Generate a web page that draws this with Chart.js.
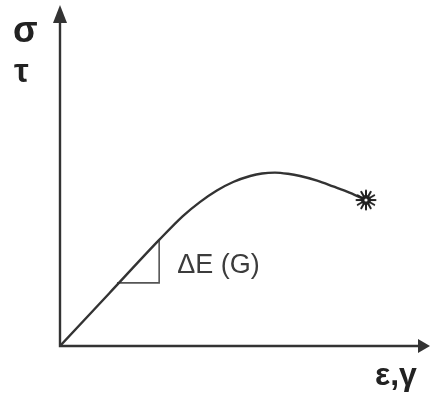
<!DOCTYPE html>
<html>
<head>
<meta charset="utf-8">
<title>Stress-strain curve</title>
<script src="https://cdn.jsdelivr.net/npm/chart.js@4/dist/chart.umd.min.js"></script>
<style>
  html, body { margin: 0; padding: 0; background: #fff; }
  canvas { display: block; }
</style>
</head>
<body>
<canvas id="curveChart" width="430" height="394"></canvas>
<script>
  // Curve samples (arbitrary units, 0-100 on both axes)
  const strain = [0, 13.4, 26.8, 33.2, 37.8, 42.4, 46.8, 51.4, 54.6, 58.1, 61.6, 64.9, 69.5, 73.8, 78.4, 82.7];
  const stress = [0, 15.55, 31.1, 38.1, 42.2, 45.6, 48.1, 49.85, 50.6, 50.85, 50.5, 49.85, 48.5, 46.8, 44.9, 42.8];

  // Slope triangle on the linear part
  const slopeX = [15.4, 26.8, 26.8];
  const slopeY = [18.5, 18.5, 31.1];

  const stressLabels = ['σ', 'τ'];
  const strainLabel = 'ε,γ';
  const slopeLabel = 'ΔE (G)';

  const INK = '#333';

  /* ---- fracture marker: spiky burst with a hollow centre ---- */
  function makeBurst() {
    const c = document.createElement('canvas');
    c.width = 22;
    c.height = 22;
    const g = c.getContext('2d');
    g.translate(11, 11);
    g.strokeStyle = '#222';
    g.lineWidth = 2;
    g.lineCap = 'round';
    for (let i = 0; i < 12; i++) {
      const a = i * Math.PI / 6;
      g.beginPath();
      g.moveTo(Math.cos(a) * 3, Math.sin(a) * 3);
      g.lineTo(Math.cos(a) * 9.5, Math.sin(a) * 9.5);
      g.stroke();
    }
    g.fillStyle = '#222';
    g.beginPath();
    g.arc(0, 0, 5, 0, Math.PI * 2);
    g.fill();
    g.fillStyle = '#fff';
    g.beginPath();
    g.arc(0, 0, 1.6, 0, Math.PI * 2);
    g.fill();
    return c;
  }

  /* ---- axes with arrowheads and the symbol labels ---- */
  const axesPlugin = {
    id: 'arrowAxes',
    beforeDatasetsDraw(chart) {
      const { ctx, chartArea: a } = chart;
      ctx.save();
      ctx.strokeStyle = INK;
      ctx.fillStyle = INK;
      ctx.lineWidth = 2.4;
      ctx.beginPath();
      ctx.moveTo(a.left, a.top + 12);
      ctx.lineTo(a.left, a.bottom);
      ctx.lineTo(a.right - 8, a.bottom);
      ctx.stroke();

      // y arrow
      ctx.beginPath();
      ctx.moveTo(a.left, a.top);
      ctx.lineTo(a.left - 7, a.top + 18);
      ctx.lineTo(a.left + 7, a.top + 18);
      ctx.closePath();
      ctx.fill();
      // x arrow
      ctx.beginPath();
      ctx.moveTo(a.right, a.bottom);
      ctx.lineTo(a.right - 12, a.bottom - 7);
      ctx.lineTo(a.right - 12, a.bottom + 7);
      ctx.closePath();
      ctx.fill();
      ctx.restore();
    },
    afterDraw(chart) {
      const { ctx } = chart;
      const xs = chart.scales.x;
      const ys = chart.scales.y;
      ctx.save();
      ctx.textBaseline = 'alphabetic';
      ctx.fillStyle = '#222';
      ctx.font = 'bold 36px "Liberation Sans", Arial, sans-serif';
      ctx.fillText(stressLabels[0], 13, 42);
      ctx.font = 'bold 33px "Liberation Sans", Arial, sans-serif';
      ctx.fillText(stressLabels[1], 14, 82);
      ctx.font = 'bold 32px "Liberation Sans", Arial, sans-serif';
      ctx.fillText(strainLabel, 375, 385);

      ctx.fillStyle = '#3c3c3c';
      ctx.font = '27px "Liberation Sans", Arial, sans-serif';
      ctx.fillText(slopeLabel, xs.getPixelForValue(slopeX[1]) + 18, ys.getPixelForValue(slopeY[0]) - 10);
      ctx.restore();
    }
  };

  const curve = strain.map((x, i) => ({ x, y: stress[i] }));
  const triangle = slopeX.map((x, i) => ({ x, y: slopeY[i] }));
  const burst = makeBurst();

  new Chart(document.getElementById('curveChart').getContext('2d'), {
    type: 'scatter',
    data: {
      datasets: [
        {
          data: curve,
          showLine: true,
          borderColor: INK,
          borderWidth: 2.4,
          cubicInterpolationMode: 'monotone',
          pointRadius: curve.map((p, i) => i === curve.length - 1 ? 10 : 0),
          pointStyle: curve.map((p, i) => i === curve.length - 1 ? burst : 'circle'),
          pointHoverRadius: 0
        },
        {
          data: triangle,
          showLine: true,
          borderColor: '#555',
          borderWidth: 1.6,
          tension: 0,
          pointRadius: 0
        }
      ]
    },
    options: {
      responsive: false,
      animation: false,
      events: [],
      layout: { autoPadding: false, padding: { left: 60, right: 0, top: 5, bottom: 48 } },
      scales: {
        x: { type: 'linear', min: 0, max: 100, display: false },
        y: { type: 'linear', min: 0, max: 100, display: false }
      },
      plugins: {
        legend: { display: false },
        tooltip: { enabled: false }
      }
    },
    plugins: [axesPlugin]
  });
</script>
</body>
</html>
